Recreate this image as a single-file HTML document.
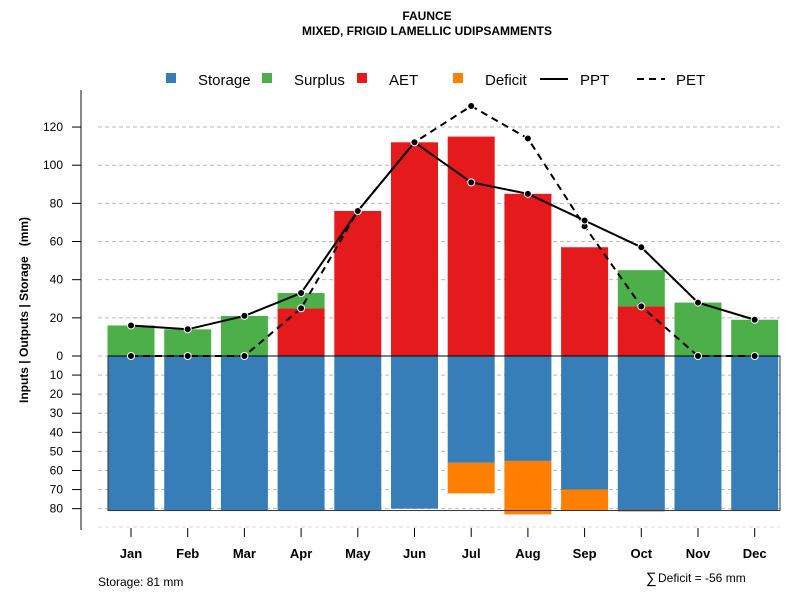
<!DOCTYPE html>
<html><head><meta charset="utf-8"><style>
body{margin:0;background:#fff;}
svg{display:block;font-family:"Liberation Sans",sans-serif;}
</style></head><body>
<svg id="c" width="800" height="600" xmlns="http://www.w3.org/2000/svg">
<text x="427" y="20" text-anchor="middle" font-size="12" font-weight="bold">FAUNCE</text>
<text x="427" y="35" text-anchor="middle" font-size="12" font-weight="bold">MIXED, FRIGID LAMELLIC UDIPSAMMENTS</text>
<g font-size="15">
<g><rect x="166" y="73" width="10" height="10" fill="#377eb8"/><text x="198" y="85">Storage</text></g>
<g><rect x="262" y="73" width="10" height="10" fill="#4daf4a"/><text x="294" y="85">Surplus</text></g>
<g><rect x="357" y="73" width="10" height="10" fill="#e41a1c"/><text x="389" y="85">AET</text></g>
<g><rect x="453" y="73" width="10" height="10" fill="#ff7f00"/><text x="485" y="85">Deficit</text></g>
<g><line x1="540" y1="79" x2="568" y2="79" stroke="#000" stroke-width="2"/><text x="580" y="85">PPT</text></g>
<g><line x1="637" y1="79" x2="665" y2="79" stroke="#000" stroke-width="2" stroke-dasharray="7,5"/><text x="676" y="85">PET</text></g>
</g>
<g id="grid"></g><g id="bars"></g><g id="lines"></g><g id="axes"></g>
<text transform="translate(28,310) rotate(-90)" text-anchor="middle" font-size="12" font-weight="bold">Inputs | Outputs | Storage &#160;&#160;(mm)</text>
<text x="98" y="586" font-size="12">Storage: 81 mm</text>
<text x="646" y="583" font-size="15">∑</text>
<text x="658" y="582" font-size="12">Deficit = -56 mm</text>
</svg>
<script>
const months=["Jan","Feb","Mar","Apr","May","Jun","Jul","Aug","Sep","Oct","Nov","Dec"];
const storage=[81,81,81,81,81,80,56,55,70,81,81,81];
const deficit=[0,0,0,0,0,0,16,28,11,0.5,0,0];
const aet=[0,0,0,25,76,112,115,85,57,26,0,0];
const surplus=[16,14,21,8,0,0,0,0,0,19,28,19];
const ppt=[16,14,21,33,76,112,91,85,71,57,28,19];
const pet=[0,0,0,25,76,112,131,114,68,26,0,0];
const upTicks=[0,20,40,60,80,100,120];
const downTicks=[10,20,30,40,50,60,70,80];
const NS="http://www.w3.org/2000/svg";
const Y0=356,K=1.908;
const yU=v=>Y0-v*K, yD=v=>Y0+v*K;
const xC=i=>131+i*56.7, BW=47;
function mk(t,a,p){const e=document.createElementNS(NS,t);for(const k in a)e.setAttribute(k,a[k]);p.appendChild(e);return e;}
const grid=document.getElementById('grid'),bars=document.getElementById('bars'),lines=document.getElementById('lines'),axes=document.getElementById('axes');
mk('line',{x1:81,y1:90,x2:81,y2:530,stroke:'#888','stroke-width':2},axes);
function tick(y,lab,nm){
  const g=mk('line',{x1:98,y1:y,x2:780,y2:y,stroke:'#bbb','stroke-dasharray':'4,3'},grid);
  
  const t=mk('line',{x1:72,y1:y,x2:81,y2:y,stroke:'#000'},axes);
  
  const tx=mk('text',{x:63,y:y+4,'text-anchor':'end','font-size':12},axes);tx.textContent=lab;
  
}
upTicks.forEach(v=>tick(yU(v),v,'y-tick-label'));
downTicks.forEach(v=>tick(yD(v),v,'y-tick-label'));
const bl=mk('line',{x1:98,y1:527,x2:780,y2:527,stroke:'#ddd','stroke-dasharray':'4,3'},grid);

months.forEach((m,i)=>{
  const x=xC(i)-BW/2;
  let r=mk('rect',{x:x,y:Y0,width:BW,height:storage[i]*K,fill:'#377eb8'},bars);
  
  if(deficit[i]>0){r=mk('rect',{x:x,y:yD(storage[i]),width:BW,height:deficit[i]*K,fill:'#ff7f00'},bars);
  }
  r=mk('rect',{x:x,y:yU(aet[i]),width:BW,height:aet[i]*K,fill:'#e41a1c'},bars);
  
  r=mk('rect',{x:x,y:yU(aet[i]+surplus[i]),width:BW,height:surplus[i]*K,fill:'#4daf4a'},bars);
  
  const t=mk('line',{x1:xC(i),y1:528,x2:xC(i),y2:537,stroke:'#000'},axes);
  
  const tx=mk('text',{x:xC(i),y:558,'text-anchor':'middle','font-size':13,'font-weight':'bold'},axes);tx.textContent=m;
  
});
const maxS=Math.max(...storage);
const sb=mk('rect',{x:108,y:Y0,width:672,height:maxS*K,fill:'none',stroke:'#333','stroke-width':1},bars);

const zl=mk('line',{x1:108,y1:Y0,x2:780,y2:Y0,stroke:'#000'},bars);

function series(arr,dash,nm){
  const p=mk('polyline',{points:arr.map((v,i)=>xC(i)+','+yU(v)).join(' '),fill:'none',stroke:'#000','stroke-width':2,'stroke-dasharray':dash},lines);
  
  arr.forEach((v,i)=>{const c=mk('circle',{cx:xC(i),cy:yU(v),r:3.5,fill:'#000',stroke:'#fff','stroke-width':1},lines);
  });
}
series(pet,'7,5','pet');
series(ppt,'none','ppt');
</script>
</body></html>
